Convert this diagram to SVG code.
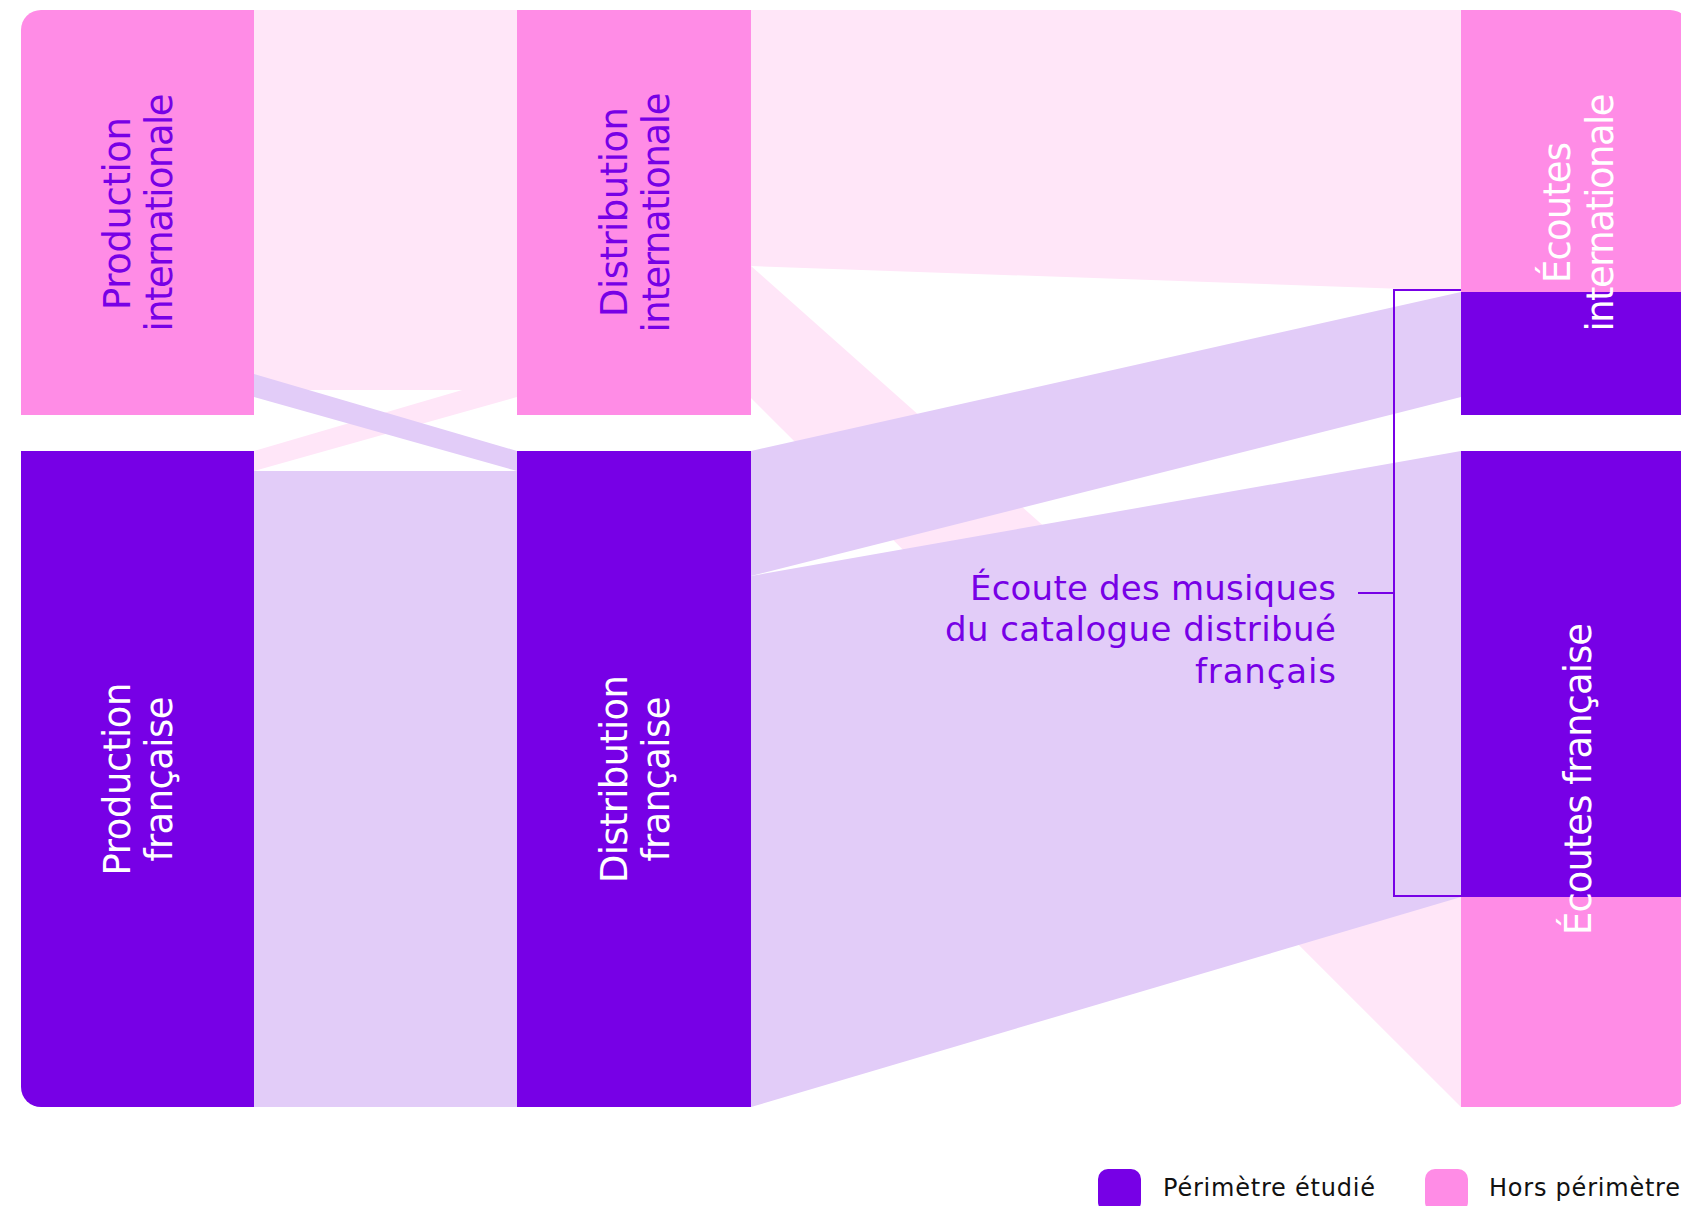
<svg xmlns="http://www.w3.org/2000/svg" width="1681" height="1206" viewBox="0 0 1681 1206">
  <style>
    .n-pink{fill:#FF8CE6}
    .n-purple{fill:#7700E6}
    .f-pink{fill:#FFE6F8}
    .f-lav{fill:#E2CCF8}
    .lbl{font-family:"DejaVu Sans","Liberation Sans",Arial,sans-serif;font-size:37px;text-anchor:middle}
    .lbl-p{fill:#7700E6}
    .lbl-w{fill:#FFFFFF}
    .note{font-family:"DejaVu Sans","Liberation Sans",Arial,sans-serif;font-size:34px;fill:#7700E6;text-anchor:end}
    .legend{font-family:"DejaVu Sans","Liberation Sans",Arial,sans-serif;font-size:24px;fill:#111111}
    .bracket{fill:none;stroke:#7700E6;stroke-width:2}
  </style>
  <rect x="0" y="0" width="1681" height="1206" fill="#FFFFFF"/>

  <g id="connectors">
    <polygon class="f-pink" points="254,10 517,10 517,390 254,390"/>
    <polygon class="f-pink" points="254,451 517,374 517,397 254,471"/>
    <polygon class="f-pink" points="751,10 1461,10 1461,291 751,266"/>
    <polygon class="f-pink" points="751,266 1461,897 1461,1107 751,398"/>
    <polygon class="f-lav" points="254,374 517,451 517,471 254,397"/>
    <polygon class="f-lav" points="254,471 517,471 517,1107 254,1107"/>
    <polygon class="f-lav" points="751,451 1461,292 1461,397 751,576"/>
    <polygon class="f-lav" points="751,576 1461,451 1461,897 751,1107"/>
  </g>

  <g id="production-internationale">
    <path class="n-pink" d="M21,30 A20,20 0 0 1 41,10 H254 V415 H21 Z"/>
    <text class="lbl lbl-p" transform="translate(130,213.5) rotate(-90)" textLength="193">Production</text>
    <text class="lbl lbl-p" transform="translate(172,212.5) rotate(-90)" textLength="238">internationale</text>
  </g>

  <g id="production-francaise">
    <path class="n-purple" d="M21,451 H254 V1107 H41 A20,20 0 0 1 21,1087 Z"/>
    <text class="lbl lbl-w" transform="translate(130,779) rotate(-90)" textLength="193">Production</text>
    <text class="lbl lbl-w" transform="translate(172,779) rotate(-90)" textLength="165">française</text>
  </g>

  <g id="distribution-internationale">
    <rect class="n-pink" x="517" y="10" width="234" height="405"/>
    <text class="lbl lbl-p" transform="translate(627,212) rotate(-90)" textLength="210">Distribution</text>
    <text class="lbl lbl-p" transform="translate(669,212.5) rotate(-90)" textLength="240">internationale</text>
  </g>

  <g id="distribution-francaise">
    <rect class="n-purple" x="517" y="451" width="234" height="656"/>
    <text class="lbl lbl-w" transform="translate(627,779) rotate(-90)" textLength="208">Distribution</text>
    <text class="lbl lbl-w" transform="translate(669,779) rotate(-90)" textLength="165">française</text>
  </g>

  <g id="ecoutes-internationale">
    <path class="n-pink" d="M1461,10 H1670 A20,20 0 0 1 1690,30 V292 H1461 Z"/>
    <rect class="n-purple" x="1461" y="292" width="229" height="123"/>
    <text class="lbl lbl-w" transform="translate(1570,212.5) rotate(-90)" textLength="141">Écoutes</text>
    <text class="lbl lbl-w" transform="translate(1613,212.5) rotate(-90)" textLength="238">internationale</text>
  </g>

  <g id="ecoutes-francaise">
    <rect class="n-purple" x="1461" y="451" width="229" height="446"/>
    <path class="n-pink" d="M1461,897 H1690 V1087 A20,20 0 0 1 1670,1107 H1461 Z"/>
    <text class="lbl lbl-w" transform="translate(1591,779) rotate(-90)" textLength="312">Écoutes française</text>
  </g>

  <g id="annotation">
    <path class="bracket" d="M1461,290 H1394 V896 H1461"/>
    <line class="bracket" x1="1358" y1="593" x2="1394" y2="593"/>
    <text class="note" x="1336" y="600" textLength="366">Écoute des musiques</text>
    <text class="note" x="1336" y="641" textLength="391">du catalogue distribué</text>
    <text class="note" x="1336" y="683" textLength="141">français</text>
  </g>

  <g id="legend">
    <rect class="n-purple" x="1098" y="1169" width="43" height="43" rx="10"/>
    <text class="legend" x="1163" y="1196" textLength="212">Périmètre étudié</text>
    <rect class="n-pink" x="1425" y="1169" width="43" height="43" rx="10"/>
    <text class="legend" x="1489" y="1196" textLength="191">Hors périmètre</text>
  </g>
</svg>
